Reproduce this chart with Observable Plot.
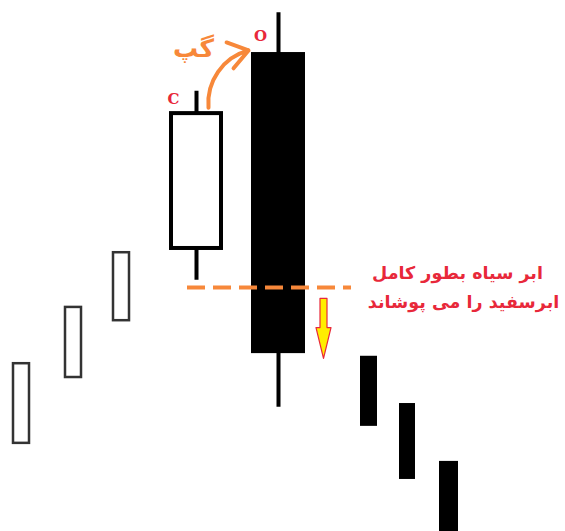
<!DOCTYPE html>
<html>
<head>
<meta charset="utf-8">
<script src="https://cdn.jsdelivr.net/npm/d3@7"></script>
<script src="https://cdn.jsdelivr.net/npm/@observablehq/plot@0.6"></script>
<style>
  html, body { margin: 0; padding: 0; background: #fff; overflow: hidden; }
</style>
</head>
<body>
<div id="chart"></div>
<script>
// Candle data (time position, width in time units, prices)
const xs     = [0.42, 1.46, 2.42, 3.92, 5.56, 7.37, 8.14, 8.97];
const widths = [0.32, 0.32, 0.32, 1.00, 1.08, 0.34, 0.32, 0.38];
const opens  = [16.6, 29.0, 39.7, 53.3, 90.2, 33.0, 24.1, 13.2];
const closes = [31.6, 42.2, 52.5, 78.7, 33.5, 19.8,  9.8, -5.6];
const highs  = [null, null, null, 82.9, 97.7, null, null, null];
const lows   = [null, null, null, 47.3, 23.4, null, null, null];
const big    = [false, false, false, true, true, false, false, false];

// Annotations
const gapLevel = 45.95, gapX1 = 3.74, gapX2 = 7.02;
const labelO = {x: 5.2, y: 93.2, text: "O"};
const labelC = {x: 3.46, y: 81.5, text: "C"};
const labelGap = {x: 3.86, y: 90.9, text: "گپ"};
const noteLines = [
  {x: 9.14, y: 48.6, text: "ابر سیاه بطور کامل"},
  {x: 9.26, y: 43.1, text: "ابرسفید را می پوشاند"}
];
const gapArrow = {x1: 4.16, y1: 79.8, x2: 4.96, y2: 90.6};
// down arrow: center x, top, head start, tip, shaft half width, head half width
const downArrow = {x: 6.46, top: 43.9, headStart: 38.4, tip: 32.6, shaftHalf: 0.07, headHalf: 0.15};

const candles = xs.map((x, i) => ({
  x, w: widths[i], open: opens[i], close: closes[i], high: highs[i], low: lows[i],
  up: closes[i] > opens[i], big: big[i]
}));
const wicks = candles.filter(d => d.high != null);
const upC = candles.filter(d => d.up);
const downC = candles.filter(d => !d.up);

const a = downArrow;
const arrowPoly = [
  [a.x - a.shaftHalf, a.top], [a.x + a.shaftHalf, a.top],
  [a.x + a.shaftHalf, a.headStart], [a.x + a.headHalf, a.headStart],
  [a.x, a.tip],
  [a.x - a.headHalf, a.headStart], [a.x - a.shaftHalf, a.headStart]
].map(([x, y]) => ({x, y}));

const red = "#e8283a";
const orange = "#f7883a";

const chart = Plot.plot({
  width: 565,
  height: 531,
  margin: 0,
  x: {domain: [0, 11.3], axis: null},
  y: {domain: [0, 100], axis: null},
  style: {background: "#fff"},
  marks: [
    Plot.ruleX(wicks, {x: "x", y1: "low", y2: "high", stroke: "#000", strokeWidth: 4}),
    Plot.rect(upC, {
      x1: d => d.x - d.w / 2, x2: d => d.x + d.w / 2,
      y1: "open", y2: "close",
      fill: "#fff", stroke: d => d.big ? "#000" : "#333",
      strokeWidth: d => d.big ? 4 : 2.5
    }),
    Plot.rect(downC, {
      x1: d => d.x - d.w / 2, x2: d => d.x + d.w / 2,
      y1: "open", y2: "close",
      fill: "#000"
    }),
    Plot.ruleY([gapLevel], {x1: gapX1, x2: gapX2, stroke: orange, strokeWidth: 4, strokeDasharray: "18,8"}),
    Plot.line(arrowPoly, {x: "x", y: "y", curve: "linear-closed", fill: "#ffee00", stroke: red, strokeWidth: 1.2}),
    Plot.arrow([gapArrow], {x1: "x1", y1: "y1", x2: "x2", y2: "y2", bend: 40, stroke: orange, strokeWidth: 4, headLength: 10, headAngle: 70}),
    Plot.text([labelO, labelC], {x: "x", y: "y", text: "text", fill: red, fontSize: 15, fontWeight: "bold", fontFamily: "DejaVu Serif"}),
    Plot.text([labelGap], {x: "x", y: "y", text: "text", fill: orange, fontSize: 25, fontWeight: "bold", fontFamily: "DejaVu Sans"}),
    Plot.text(noteLines, {x: "x", y: "y", text: "text", fill: red, fontSize: 17.5, fontWeight: "bold", fontFamily: "DejaVu Sans"})
  ]
});
document.getElementById("chart").appendChild(chart);
</script>
</body>
</html>
